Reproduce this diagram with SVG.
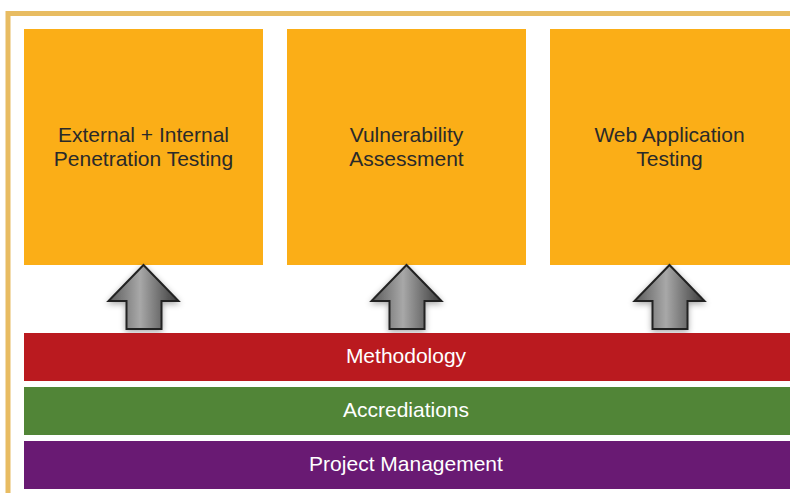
<svg xmlns="http://www.w3.org/2000/svg" width="790" height="493" viewBox="0 0 790 493">
<defs>
<style>
.box{fill:#FBAE17}
.bt{font-family:"Liberation Sans",Arial,sans-serif;font-size:21px;fill:#2a2a2a;text-anchor:middle}
.wt{font-family:"Liberation Sans",Arial,sans-serif;font-size:21px;fill:#ffffff;text-anchor:middle}
.arr{fill:url(#g);stroke:#222;stroke-width:2;stroke-linejoin:miter;filter:url(#sh)}
</style>
<linearGradient id="g" x1="0" y1="0" x2="1" y2="0">
<stop offset="0" stop-color="#5a5a5a"/>
<stop offset="0.45" stop-color="#a8a8a8"/>
<stop offset="1" stop-color="#3a3a3a"/>
</linearGradient>
<filter id="sh" x="-30%" y="-30%" width="160%" height="160%">
<feGaussianBlur in="SourceAlpha" stdDeviation="3"/>
<feOffset dx="0" dy="2"/>
<feComponentTransfer><feFuncA type="linear" slope="0.35"/></feComponentTransfer>
<feMerge><feMergeNode/><feMergeNode in="SourceGraphic"/></feMerge>
</filter>
<path id="ap" d="M0,0 L35,36 L18,36 L18,64 L-17,64 L-17,36 L-35,36 Z"/>
</defs>
<rect width="790" height="493" fill="#ffffff"/>
<path d="M8,493 L8,13.5 L790,13.5" fill="none" stroke="#E8BC62" stroke-width="5"/>
<g id="node-ext">
<rect class="box" x="24" y="29" width="239" height="236"/>
<text class="bt" x="143.5" y="141.5">External + Internal</text>
<text class="bt" x="143.5" y="166">Penetration Testing</text>
</g>
<g id="node-vuln">
<rect class="box" x="287" y="29" width="239" height="236"/>
<text class="bt" x="406.5" y="141.5">Vulnerability</text>
<text class="bt" x="406.5" y="166">Assessment</text>
</g>
<g id="node-web">
<rect class="box" x="550" y="29" width="240" height="236"/>
<text class="bt" x="669.5" y="141.5">Web Application</text>
<text class="bt" x="669.5" y="166">Testing</text>
</g>
<g id="connectors">
<use href="#ap" class="arr" x="143.5" y="265"/>
<use href="#ap" class="arr" x="406.5" y="265"/>
<use href="#ap" class="arr" x="669.5" y="265"/>
</g>
<g id="node-method">
<rect x="24" y="333" width="766" height="48" fill="#BA1A1F"/>
<text class="wt" x="406" y="363">Methodology</text>
</g>
<g id="node-accred">
<rect x="24" y="387" width="766" height="48" fill="#518537"/>
<text class="wt" x="406" y="417">Accrediations</text>
</g>
<g id="node-pm">
<rect x="24" y="441" width="766" height="48" fill="#691A73"/>
<text class="wt" x="406" y="471">Project Management</text>
</g>
</svg>
